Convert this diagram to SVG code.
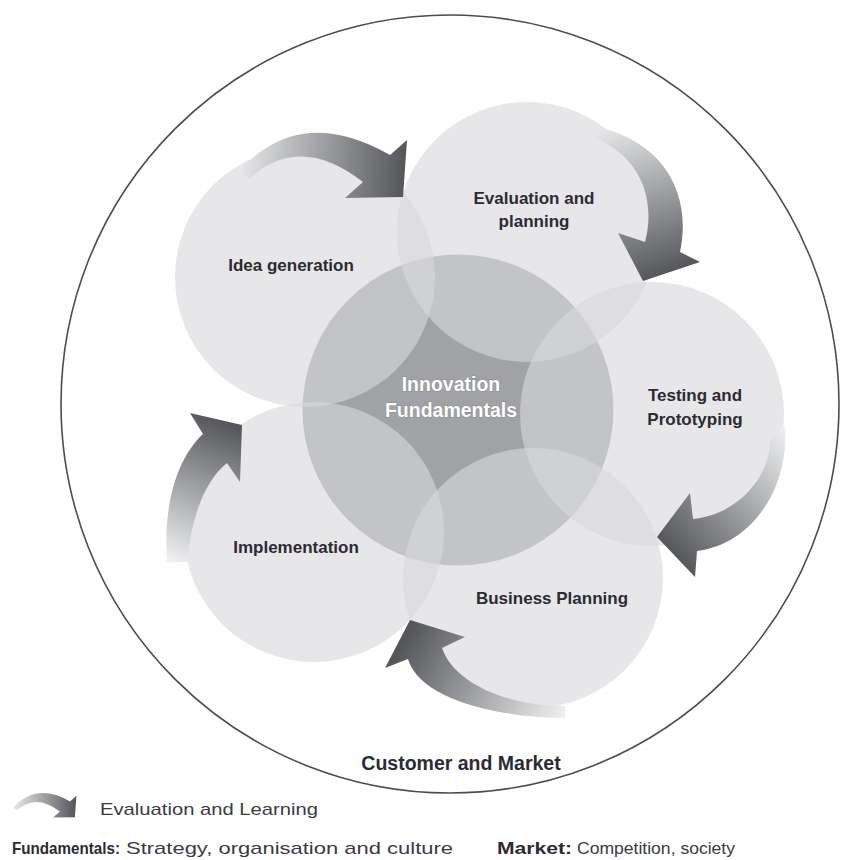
<svg xmlns="http://www.w3.org/2000/svg" width="847" height="860" viewBox="0 0 847 860">
<defs>
<style>
.small{fill:#d8d9dc;fill-opacity:0.62}
.lbl{font-family:"Liberation Sans",Arial,sans-serif;font-weight:bold;font-size:17px;fill:#2b2b33;text-anchor:middle}
.ctr{font-family:"Liberation Sans",Arial,sans-serif;font-weight:bold;font-size:19.5px;fill:#ffffff;text-anchor:middle;stroke:#8c8c90;stroke-width:1;paint-order:stroke}
.leg{font-family:"Liberation Sans",Arial,sans-serif;font-size:17px;fill:#3a3a44}
.legb{font-family:"Liberation Sans",Arial,sans-serif;font-size:17px;font-weight:bold;fill:#2b2b33}
</style>
<linearGradient id="g1" gradientUnits="userSpaceOnUse" x1="240" y1="165" x2="405" y2="175">
<stop offset="0" stop-color="#e6e7e9"/><stop offset="1" stop-color="#555659"/></linearGradient>
<linearGradient id="g2" gradientUnits="userSpaceOnUse" x1="600" y1="130" x2="650" y2="280">
<stop offset="0" stop-color="#e6e7e9"/><stop offset="1" stop-color="#555659"/></linearGradient>
<linearGradient id="g3" gradientUnits="userSpaceOnUse" x1="785" y1="430" x2="660" y2="540">
<stop offset="0" stop-color="#eeeff1"/><stop offset="1" stop-color="#555659"/></linearGradient>
<linearGradient id="g4" gradientUnits="userSpaceOnUse" x1="565" y1="712" x2="410" y2="630">
<stop offset="0" stop-color="#eeeff1"/><stop offset="1" stop-color="#555659"/></linearGradient>
<linearGradient id="g5" gradientUnits="userSpaceOnUse" x1="178" y1="562" x2="232" y2="425">
<stop offset="0" stop-color="#eeeff1"/><stop offset="1" stop-color="#555659"/></linearGradient>
</defs>

<g id="outer">
<circle cx="450" cy="404" r="389" fill="#ffffff" stroke="#4d4d50" stroke-width="1.6"/>
<text class="lbl" x="461" y="770" style="font-size:19.5px">Customer and Market</text>
</g>

<g id="innovation-fundamentals">
<circle cx="458" cy="410" r="155.5" fill="#a1a2a5"/>
</g>

<g id="idea-generation">
<circle class="small" cx="305" cy="277" r="130"/>
</g>
<g id="evaluation-planning">
<circle class="small" cx="527" cy="232" r="130"/>
</g>
<g id="testing-prototyping">
<circle class="small" cx="652" cy="414" r="132"/>
</g>
<g id="business-planning">
<circle class="small" cx="533" cy="578" r="130"/>
</g>
<g id="implementation">
<circle class="small" cx="314" cy="532" r="130"/>
</g>

<g id="labels">
<text class="lbl" x="291" y="271">Idea generation</text>
<text class="lbl" x="534" y="204">Evaluation and</text>
<text class="lbl" x="534" y="227">planning</text>
<text class="lbl" x="695" y="401">Testing and</text>
<text class="lbl" x="695" y="425">Prototyping</text>
<text class="lbl" x="552" y="604">Business Planning</text>
<text class="lbl" x="296" y="553">Implementation</text>
<text class="ctr" x="451" y="391">Innovation</text>
<text class="ctr" x="451" y="417">Fundamentals</text>
</g>

<g id="connectors">
<path id="a1" fill="url(#g1)" d="M238,172 Q300,103 390,155 L407,140 L403,197 L345,198 L363,182 Q300,133 250,178 Z"/>
<path id="a2" fill="url(#g2)" d="M603,128 C665,145 692,195 680,252 L700,262 L643,281 L618,233 L645,242 C655,205 645,160 596,138 Z"/>
<path id="a3" fill="url(#g3)" d="M785,425 C790,490 750,545 697,551 L695,577 L657,537 L690,493 L693,519 C735,515 770,480 770,440 Z"/>
<path id="a4" fill="url(#g4)" d="M565,718 C500,718 420,700 408,659 L385,668 L410,620 L465,637 L442,648 C455,685 510,706 565,706 Z"/>
<path id="a5" fill="url(#g5)" d="M167,562 C163,510 175,460 203,434 L190,413 L242,425 L240,482 L227,463 C205,480 190,520 188,562 Z"/>
</g>

<g id="legend">
<use href="#a1" transform="translate(-76.25,743.25) scale(0.375)"/>
<text class="leg" x="100" y="815" textLength="218" lengthAdjust="spacingAndGlyphs">Evaluation and Learning</text>
<text class="legb" x="12" y="854" textLength="108" lengthAdjust="spacingAndGlyphs">Fundamentals:</text>
<text class="leg" x="126" y="854" textLength="327" lengthAdjust="spacingAndGlyphs">Strategy, organisation and culture</text>
<text class="legb" x="497" y="854" textLength="75" lengthAdjust="spacingAndGlyphs">Market:</text>
<text class="leg" x="577" y="854" textLength="158" lengthAdjust="spacingAndGlyphs">Competition, society</text>
</g>
</svg>
